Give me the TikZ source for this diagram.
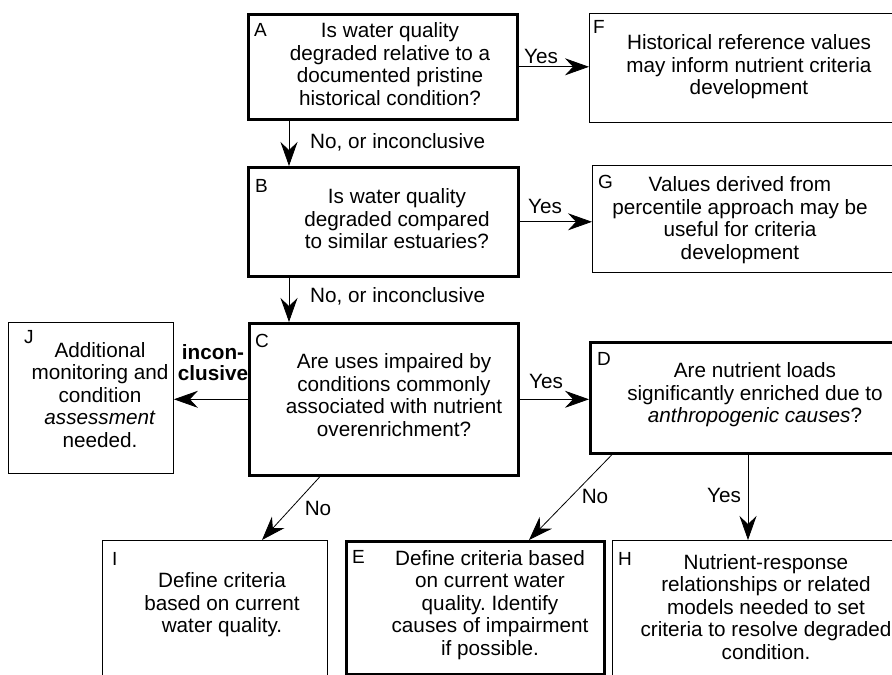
\documentclass[tikz,border=0pt]{standalone}
\usepackage{fontspec}
\setmainfont{Liberation Sans}
\usetikzlibrary{arrows.meta}
\begin{document}
\frenchspacing
\begin{tikzpicture}[x=1pt,y=-1pt,
  thickbox/.style={draw, line width=2.6pt, rectangle, inner sep=0pt, anchor=north west},
  thinbox/.style={draw, line width=0.9pt, rectangle, inner sep=0pt, anchor=north west},
  lbl/.style={font=\fontsize{19}{19}\selectfont, anchor=base west, inner sep=0pt},
  body/.style={font=\fontsize{20.7}{22.5}\selectfont, align=center, inner sep=0pt},
  edge/.style={line width=0.8pt, -{Stealth[length=24pt,width=17pt,inset=8pt]}},
  elab/.style={font=\fontsize{20.7}{22}\selectfont, inner sep=0pt, align=center}]
\clip (0,0) rectangle (892,675);
\fill[white] (0,0) rectangle (892,675);
% boxes
\node[thickbox, minimum width=269pt, minimum height=105pt] (A) at (247,13) {};
\node[thinbox,  minimum width=330pt, minimum height=109pt] (F) at (589,13) {};
\node[thickbox, minimum width=270pt, minimum height=109pt] (B) at (247,166) {};
\node[thinbox,  minimum width=330pt, minimum height=107pt] (G) at (592,165) {};
\node[thickbox, minimum width=269pt, minimum height=152pt] (C) at (248,322) {};
\node[thinbox,  minimum width=165pt, minimum height=151pt] (J) at (8,322) {};
\node[thickbox, minimum width=330pt, minimum height=111pt] (D) at (589,341) {};
\node[thinbox,  minimum width=225pt, minimum height=160pt] (I) at (102,540) {};
\node[thickbox, minimum width=258pt, minimum height=133pt] (E) at (345,540) {};
\node[thinbox,  minimum width=300pt, minimum height=160pt] (H) at (612,540) {};
% letters
\node[lbl] (Al) at (254,36) {A};
\node[lbl] (Fl) at (593,33) {F};
\node[lbl] (Bl) at (255,192) {B};
\node[lbl] (Gl) at (598,188) {G};
\node[lbl] (Cl) at (255,347) {C};
\node[lbl] (Jl) at (24,343) {J};
\node[lbl] (Dl) at (597,365) {D};
\node[lbl] (Il) at (112,565) {I};
\node[lbl] (El) at (352,563) {E};
\node[lbl] (Hl) at (618,565) {H};
% texts
\node[body] (At) at (390,64) {Is water quality\\degraded relative to a\\documented pristine\\historical condition?};
\node[body] (Ft) at (749,67) {Historical reference values\\may inform nutrient criteria\\development};
\node[body] (Bt) at (397,219) {Is water quality\\degraded compared\\to similar estuaries?};
\node[body] (Gt) at (740,220) {Values derived from\\percentile approach may be\\useful for criteria\\development};
\node[body] (Ct) at (394,395) {Are uses impaired by\\conditions commonly\\associated with nutrient\\overenrichment?};
\node[body] (Jt) at (100,395) {Additional\\monitoring and\\condition\\\textit{assessment}\\needed.};
\node[body] (Dt) at (755,395) {Are nutrient loads\\significantly enriched due to\\\textit{anthropogenic causes}?};
\node[body] (It) at (222,605) {Define criteria\\based on current\\water quality.};
\node[body] (Et) at (490,605) {Define criteria based\\on current water\\quality. Identify\\causes of impairment\\if possible.};
\node[body] (Ht) at (766,607) {Nutrient-response\\relationships or related\\models needed to set\\criteria to resolve degraded\\condition.};
% connectors
\draw[edge] ([xshift=42pt]A.south west) -- ([xshift=42pt]B.north west);
\draw[edge] ([xshift=42pt]B.south west) -- ([xshift=41pt]C.north west);
\draw[edge] (A.east) -- (A.east -| F.west);
\draw[edge] (B.east) -- (B.east -| G.west);
\draw[edge] (C.east) -- (C.east -| D.west);
\draw[edge] (C.west) -- (C.west -| J.east);
\draw[edge] ([xshift=72pt]C.south west) -- ([xshift=160pt]I.north west);
\draw[edge] ([xshift=23pt]D.south west) -- ([xshift=184pt]E.north west);
\draw[edge] ([xshift=159pt]D.south west) -- ([xshift=136pt]H.north west);
% connector labels
\node[elab, anchor=west] (l1) at (310,142) {No, or inconclusive};
\node[elab, anchor=west] (l2) at (310,296) {No, or inconclusive};
\node[elab] (l3) at (541,56) {Yes};
\node[elab] (l4) at (545,206) {Yes};
\node[elab] (l5) at (546,381) {Yes};
\node[elab, font=\fontsize{20.7}{21}\selectfont\bfseries] (l6) at (213,363) {incon-\\clusive};
\node[elab] (l7) at (318,508) {No};
\node[elab] (l8) at (595,496) {No};
\node[elab] (l9) at (724,495) {Yes};
\end{tikzpicture}
\end{document}
